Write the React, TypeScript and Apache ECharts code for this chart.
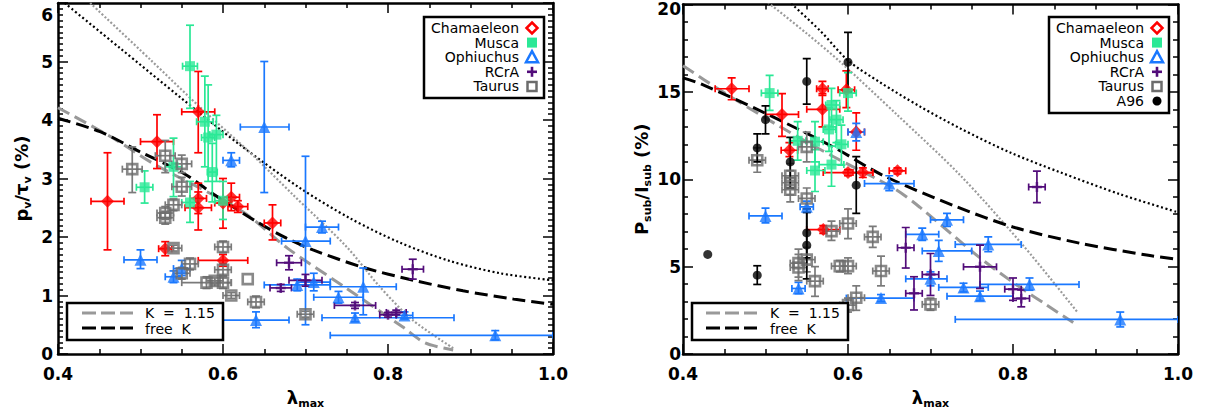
import React, { useEffect, useRef } from 'react';
import * as echarts from 'echarts';

// ---------- LEFT PANEL (p_v / tau_v) : [x, y, xLow, xHigh, yLow, yHigh]
const chamL = [
  [0.46, 2.61, 0.44, 0.48, 1.78, 3.44],
  [0.52, 3.63, 0.50, 0.54, 3.17, 4.09],
  [0.53, 1.80, 0.522, 0.538, 1.68, 1.92],
  [0.57, 4.14, 0.55, 0.59, 3.44, 4.83],
  [0.57, 2.66, 0.56, 0.58, 2.40, 2.92],
  [0.57, 2.50, 0.554, 0.586, 2.12, 2.77],
  [0.60, 2.58, 0.59, 0.61, 2.15, 3.00],
  [0.60, 1.60, 0.57, 0.63, 1.50, 1.70],
  [0.61, 2.68, 0.60, 0.62, 2.45, 2.92],
  [0.618, 2.52, 0.606, 0.63, 2.42, 2.62],
  [0.66, 2.24, 0.65, 0.67, 1.95, 2.55],
];
const muscaL = [
  [0.505, 2.85, 0.495, 0.515, 2.58, 3.13],
  [0.54, 3.20, 0.53, 0.55, 2.69, 3.69],
  [0.56, 4.92, 0.551, 0.569, 4.20, 5.62],
  [0.56, 2.59, 0.55, 0.57, 2.25, 2.95],
  [0.578, 3.97, 0.568, 0.588, 3.20, 4.75],
  [0.582, 3.70, 0.574, 0.59, 2.95, 4.60],
  [0.587, 3.11, 0.581, 0.593, 2.60, 3.60],
  [0.592, 3.75, 0.584, 0.60, 2.95, 4.08],
  [0.60, 2.62, 0.59, 0.61, 2.30, 2.95],
];
const ophL = [
  [0.50, 1.61, 0.48, 0.52, 1.46, 1.78],
  [0.54, 1.32, 0.53, 0.55, 1.22, 1.42],
  [0.55, 1.46, 0.54, 0.56, 1.34, 1.60],
  [0.61, 3.31, 0.60, 0.62, 3.20, 3.44],
  [0.65, 3.88, 0.621, 0.68, 2.76, 5.00],
  [0.64, 0.58, 0.59, 0.68, 0.45, 0.72],
  [0.70, 1.93, 0.671, 0.73, 0.50, 3.38],
  [0.72, 2.17, 0.70, 0.74, 2.07, 2.27],
  [0.69, 1.18, 0.65, 0.73, 1.08, 1.28],
  [0.71, 1.23, 0.69, 0.73, 1.08, 1.38],
  [0.74, 0.97, 0.71, 0.77, 0.87, 1.07],
  [0.77, 1.15, 0.73, 0.81, 0.67, 1.47],
  [0.76, 0.62, 0.72, 0.88, 0.55, 0.70],
  [0.82, 0.66, 0.81, 0.83, 0.60, 0.72],
  [0.93, 0.32, 0.73, 1.00, 0.24, 0.40],
];
const rcraL = [
  [0.67, 1.13, 0.657, 0.683, 1.07, 1.19],
  [0.68, 1.56, 0.665, 0.695, 1.44, 1.68],
  [0.70, 1.26, 0.68, 0.72, 1.16, 1.36],
  [0.76, 0.83, 0.735, 0.785, 0.78, 0.88],
  [0.80, 0.67, 0.79, 0.81, 0.63, 0.71],
  [0.81, 0.71, 0.798, 0.822, 0.67, 0.75],
  [0.83, 1.45, 0.817, 0.843, 1.28, 1.62],
];
const taurL = [
  [0.49, 3.16, 0.478, 0.502, 2.76, 3.54],
  [0.53, 3.39, 0.518, 0.542, 3.10, 3.65],
  [0.55, 3.25, 0.538, 0.562, 3.10, 3.40],
  [0.55, 2.86, 0.538, 0.562, 2.70, 3.02],
  [0.53, 2.41, 0.52, 0.54, 2.30, 2.52],
  [0.53, 2.33, 0.52, 0.54, 2.22, 2.44],
  [0.54, 2.55, 0.53, 0.55, 2.45, 2.65],
  [0.54, 1.81, 0.53, 0.55, 1.76, 1.86],
  [0.55, 1.38, 0.54, 0.56, 1.28, 1.48],
  [0.56, 1.54, 0.55, 0.57, 1.44, 1.64],
  [0.60, 1.83, 0.59, 0.61, 1.73, 1.93],
  [0.60, 1.44, 0.59, 0.61, 1.34, 1.54],
  [0.58, 1.22, 0.55, 0.61, 1.12, 1.32],
  [0.59, 1.25, 0.58, 0.60, 1.20, 1.30],
  [0.60, 1.22, 0.59, 0.61, 1.12, 1.32],
  [0.63, 1.28, 0.63, 0.63, 1.28, 1.28],
  [0.61, 1.00, 0.60, 0.62, 0.95, 1.05],
  [0.64, 0.89, 0.63, 0.65, 0.79, 0.99],
  [0.70, 0.68, 0.69, 0.71, 0.63, 0.73],
];

// model curves, left panel
const fixKxL = [0.40, 0.467, 0.515, 0.624, 0.678, 0.749, 0.818, 0.845, 0.879];
const fixKyL = [4.21, 3.69, 3.26, 2.43, 1.81, 1.13, 0.46, 0.19, 0.07];
const freeKxL = [0.40, 0.451, 0.499, 0.552, 0.592, 0.641, 0.677, 0.709, 0.77, 0.831, 0.891, 0.952, 1.0];
const freeKyL = [4.03, 3.80, 3.46, 3.09, 2.70, 2.26, 1.98, 1.78, 1.48, 1.26, 1.08, 0.94, 0.85];
const dotBxL = [0.408, 0.475, 0.548, 0.621, 0.693, 0.754, 0.815, 0.875, 0.936, 1.0];
const dotByL = [6.0, 5.23, 4.39, 3.57, 2.84, 2.32, 1.90, 1.59, 1.38, 1.26];
const dotGxL = [0.439, 0.512, 0.572, 0.633, 0.685, 0.75, 0.79, 0.83, 0.879];
const dotGyL = [6.0, 5.03, 4.22, 3.44, 2.72, 1.83, 1.15, 0.58, 0.1];

// ---------- RIGHT PANEL (P_sub / I_sub)
const chamR = [
  [0.459, 15.18, 0.439, 0.48, 14.55, 15.8],
  [0.52, 13.71, 0.50, 0.54, 12.45, 14.9],
  [0.529, 11.66, 0.519, 0.539, 11.3, 12.1],
  [0.569, 15.18, 0.562, 0.576, 14.8, 15.6],
  [0.569, 14.0, 0.55, 0.59, 13.0, 14.9],
  [0.598, 15.12, 0.588, 0.608, 14.1, 16.2],
  [0.61, 12.7, 0.60, 0.62, 11.66, 13.8],
  [0.57, 7.12, 0.55, 0.59, 6.9, 7.35],
  [0.60, 10.38, 0.57, 0.63, 10.2, 10.55],
  [0.618, 10.38, 0.606, 0.63, 10.1, 10.65],
  [0.66, 10.48, 0.65, 0.67, 10.3, 10.65],
];
const muscaR = [
  [0.505, 14.93, 0.495, 0.515, 13.94, 15.94],
  [0.539, 12.2, 0.529, 0.549, 11.1, 13.3],
  [0.56, 12.15, 0.55, 0.57, 11.0, 13.3],
  [0.56, 10.5, 0.55, 0.572, 9.3, 11.7],
  [0.577, 12.85, 0.57, 0.585, 11.6, 14.1],
  [0.58, 14.25, 0.573, 0.59, 13.0, 15.2],
  [0.586, 13.41, 0.578, 0.594, 12.1, 14.5],
  [0.592, 12.0, 0.585, 0.60, 10.8, 13.1],
  [0.58, 10.84, 0.565, 0.595, 9.6, 11.9],
  [0.60, 14.93, 0.59, 0.61, 13.9, 16.1],
];
const ophR = [
  [0.50, 7.9, 0.48, 0.52, 7.5, 8.35],
  [0.54, 3.75, 0.532, 0.548, 3.45, 4.1],
  [0.55, 8.42, 0.542, 0.558, 8.1, 8.75],
  [0.61, 12.7, 0.60, 0.62, 12.2, 13.2],
  [0.64, 3.2, 0.598, 0.68, 3.0, 3.4],
  [0.65, 9.75, 0.62, 0.68, 9.35, 10.2],
  [0.69, 6.85, 0.67, 0.71, 6.5, 7.2],
  [0.70, 4.3, 0.67, 0.72, 3.9, 4.7],
  [0.71, 5.9, 0.69, 0.75, 5.3, 6.5],
  [0.72, 7.68, 0.70, 0.74, 7.3, 8.05],
  [0.74, 3.81, 0.71, 0.77, 3.55, 4.05],
  [0.76, 3.31, 0.72, 0.80, 3.05, 3.6],
  [0.77, 6.27, 0.73, 0.81, 5.85, 6.7],
  [0.82, 3.98, 0.76, 0.88, 3.65, 4.35],
  [0.93, 1.98, 0.73, 1.0, 1.55, 2.4],
];
const rcraR = [
  [0.67, 6.08, 0.66, 0.68, 4.92, 7.24],
  [0.68, 3.47, 0.67, 0.69, 2.52, 4.42],
  [0.70, 4.55, 0.69, 0.71, 3.35, 5.75],
  [0.76, 4.99, 0.74, 0.78, 3.75, 6.23],
  [0.80, 3.71, 0.79, 0.81, 3.07, 4.35],
  [0.81, 3.18, 0.80, 0.82, 2.7, 3.66],
  [0.829, 9.56, 0.819, 0.839, 8.66, 10.46],
];
const taurR = [
  [0.49, 11.09, 0.48, 0.50, 10.4, 11.8],
  [0.53, 10.2, 0.52, 0.54, 9.5, 10.9],
  [0.53, 9.8, 0.52, 0.54, 9.1, 10.5],
  [0.53, 9.4, 0.52, 0.54, 8.7, 10.1],
  [0.55, 11.85, 0.54, 0.56, 11.0, 12.7],
  [0.55, 8.9, 0.54, 0.56, 8.3, 9.5],
  [0.54, 5.2, 0.53, 0.55, 4.4, 6.0],
  [0.54, 4.95, 0.53, 0.55, 4.2, 5.7],
  [0.55, 5.4, 0.54, 0.56, 4.7, 6.1],
  [0.56, 4.17, 0.55, 0.57, 3.3, 5.0],
  [0.58, 7.03, 0.57, 0.59, 6.5, 7.6],
  [0.59, 5.03, 0.58, 0.60, 4.7, 5.35],
  [0.60, 5.03, 0.59, 0.61, 4.6, 5.5],
  [0.60, 7.47, 0.59, 0.61, 6.6, 8.3],
  [0.60, 2.8, 0.59, 0.61, 2.4, 3.2],
  [0.61, 3.22, 0.60, 0.62, 2.5, 3.9],
  [0.63, 6.7, 0.62, 0.64, 6.1, 7.3],
  [0.64, 4.75, 0.63, 0.65, 3.9, 5.6],
  [0.70, 2.84, 0.69, 0.71, 2.5, 3.2],
];
const a96R = [
  [0.43, 5.70, 0.43, 0.43, 5.70, 5.70],
  [0.49, 4.51, 0.49, 0.49, 3.98, 5.05],
  [0.49, 11.79, 0.49, 0.49, 11.0, 12.6],
  [0.50, 13.41, 0.50, 0.50, 12.6, 14.2],
  [0.53, 10.99, 0.53, 0.53, 9.5, 12.4],
  [0.55, 15.6, 0.55, 0.55, 14.3, 16.9],
  [0.55, 6.93, 0.55, 0.55, 5.5, 8.3],
  [0.55, 6.23, 0.55, 0.55, 4.3, 8.1],
  [0.60, 16.7, 0.60, 0.60, 15.0, 18.4],
  [0.61, 9.66, 0.61, 0.61, 8.05, 11.3],
];

// model curves, right panel
const fixKxR = [0.40, 0.445, 0.518, 0.582, 0.655, 0.687, 0.76, 0.809, 0.841, 0.873];
const fixKyR = [16.5, 15.1, 13.0, 11.3, 9.5, 8.4, 5.5, 3.8, 2.8, 1.8];
const freeKxR = [0.40, 0.421, 0.501, 0.582, 0.642, 0.732, 0.80, 0.881, 0.962, 1.0];
const freeKyR = [15.8, 15.47, 13.75, 11.85, 10.23, 8.42, 7.27, 6.34, 5.66, 5.41];
const dotBxR = [0.531, 0.566, 0.60, 0.639, 0.687, 0.736, 0.796, 0.857, 0.93, 1.0];
const dotByR = [20.06, 18.51, 16.8, 15.54, 14.17, 12.91, 11.54, 10.4, 9.14, 8.11];
const dotGxR = [0.503, 0.55, 0.59, 0.659, 0.736, 0.812, 0.878];
const dotGyR = [20.11, 18.34, 16.74, 13.71, 10.23, 6.23, 2.4];

const FONT = 'DejaVu Sans';
const RED = '#ff0000';
const GREEN = '#2ae896';
const BLUE = '#1a78ff';
const PURPLE = '#520c7a';
const GRAY = '#6c6c6c';
const GRAY_BAR = '#7a7a7a';

const plusPath = 'path://M3,0H5V3H8V5H5V8H3V5H0V3H3Z';

function errSeries(data: number[][], color: string, ai: number, showX = true) {
  return {
    type: 'custom',
    xAxisIndex: ai,
    yAxisIndex: ai,
    clip: true,
    silent: true,
    z: 2,
    encode: { x: 0, y: 1 },
    data,
    renderItem: (_p: any, api: any) => {
      const x = api.value(0), y = api.value(1);
      const pL = api.coord([api.value(2), y]);
      const pH = api.coord([api.value(3), y]);
      const pB = api.coord([x, api.value(4)]);
      const pT = api.coord([x, api.value(5)]);
      const st = { stroke: color, lineWidth: 1.7 };
      const ch: any[] = [];
      const capH = 3.5, capV = 4;
      if (showX && pH[0] - pL[0] > 1) {
        ch.push({ type: 'line', shape: { x1: pL[0], y1: pL[1], x2: pH[0], y2: pH[1] }, style: st });
        ch.push({ type: 'line', shape: { x1: pL[0], y1: pL[1] - capH, x2: pL[0], y2: pL[1] + capH }, style: st });
        ch.push({ type: 'line', shape: { x1: pH[0], y1: pH[1] - capH, x2: pH[0], y2: pH[1] + capH }, style: st });
      }
      if (pB[1] - pT[1] > 1) {
        ch.push({ type: 'line', shape: { x1: pB[0], y1: pB[1], x2: pT[0], y2: pT[1] }, style: st });
        ch.push({ type: 'line', shape: { x1: pB[0] - capV, y1: pB[1], x2: pB[0] + capV, y2: pB[1] }, style: st });
        ch.push({ type: 'line', shape: { x1: pT[0] - capV, y1: pT[1], x2: pT[0] + capV, y2: pT[1] }, style: st });
      }
      return { type: 'group', children: ch };
    },
  };
}

function markSeries(data: number[][], ai: number, symbol: string, size: number, itemStyle: any) {
  return {
    type: 'scatter',
    xAxisIndex: ai,
    yAxisIndex: ai,
    data: data.map((r) => [r[0], r[1]]),
    symbol,
    symbolSize: size,
    itemStyle,
    z: 3,
    silent: true,
  };
}

function curve(xs: number[], ys: number[], ai: number, color: string, width: number, dash: number[]) {
  return {
    type: 'line',
    xAxisIndex: ai,
    yAxisIndex: ai,
    data: xs.map((x, i) => [x, ys[i]]),
    showSymbol: false,
    symbol: 'none',
    smooth: 0.3,
    clip: true,
    silent: true,
    z: 1,
    lineStyle: { color, width, type: dash },
  };
}

const subRich = {
  a: { fontFamily: FONT, fontSize: 18, fontWeight: 'bold', color: '#000', lineHeight: 24 },
  s: { fontFamily: FONT, fontSize: 11, fontWeight: 'bold', color: '#000', lineHeight: 12, verticalAlign: 'bottom' },
};

function xAxes(grid: number) {
  const common = {
    type: 'value', gridIndex: grid, min: 0.4, max: 1.0, interval: 0.2,
    axisLine: { show: true, onZero: false, lineStyle: { color: '#000', width: 2.5 } },
    axisTick: { show: true, inside: true, length: 10, lineStyle: { color: '#000', width: 1.5 } },
    minorTick: { show: true, splitNumber: 4, length: 5, lineStyle: { color: '#000', width: 1.5 } },
    splitLine: { show: false },
    minorSplitLine: { show: false },
  };
  return [
    {
      ...common, position: 'bottom',
      axisLabel: { show: true, color: '#000', fontFamily: FONT, fontSize: 17, fontWeight: 'bold', margin: 11, formatter: (v: number) => v.toFixed(1) },
      name: '{a|λ}{s|max}', nameLocation: 'middle', nameGap: 31,
      nameTextStyle: { rich: subRich },
    },
    { ...common, position: 'top', axisLabel: { show: false } },
  ];
}

function yAxes(grid: number, max: number, interval: number, minorSplit: number, name: string, nameGap: number, margin: number, topShift: number) {
  const common = {
    type: 'value', gridIndex: grid, min: 0, max, interval,
    axisLine: { show: true, onZero: false, lineStyle: { color: '#000', width: 2.5 } },
    axisTick: { show: true, inside: true, length: 10, lineStyle: { color: '#000', width: 1.5 } },
    minorTick: { show: true, splitNumber: minorSplit, length: 5, lineStyle: { color: '#000', width: 1.5 } },
    splitLine: { show: false },
    minorSplitLine: { show: false },
  };
  return [
    {
      ...common, position: 'left',
      axisLabel: {
        show: true, color: '#000', fontFamily: FONT, fontSize: 17, fontWeight: 'bold', margin,
        formatter: (v: number) => (v === max ? `{t|${v}}` : `${v}`),
        rich: { t: { fontFamily: FONT, fontSize: 17, fontWeight: 'bold', color: '#000', padding: [topShift, 0, 0, 0] } },
      },
      name, nameLocation: 'middle', nameGap, nameRotate: 90,
      nameTextStyle: { rich: subRich },
    },
    { ...common, position: 'right', axisLabel: { show: false } },
  ];
}

function legendBox(x: number, y: number, w: number, h: number, textRight: number, markX: number, rows: { label: string; mark: string; color: string }[]) {
  const els: any[] = [
    { type: 'rect', shape: { x, y, width: w, height: h }, style: { fill: '#fff', stroke: '#000', lineWidth: 2.5 }, z: 10 },
  ];
  rows.forEach((r, i) => {
    const cy = y + 11 + i * 14.6;
    els.push({
      type: 'text', x: textRight, y: cy, z: 11,
      style: { text: r.label, fill: '#000', font: `14px "${FONT}"`, lineHeight: 13, align: 'right', verticalAlign: 'middle', textAlign: 'right', textVerticalAlign: 'middle' },
    });
    const cx = markX;
    if (r.mark === 'diamond') {
      els.push({ type: 'polygon', z: 11, shape: { points: [[cx, cy - 5.5], [cx + 5.5, cy], [cx, cy + 5.5], [cx - 5.5, cy]] }, style: { fill: '#fff', stroke: r.color, lineWidth: 2.5 } });
    } else if (r.mark === 'musca') {
      els.push({ type: 'rect', z: 11, shape: { x: cx - 5, y: cy - 5, width: 10, height: 10 }, style: { fill: r.color } });
    } else if (r.mark === 'triangle') {
      els.push({ type: 'polygon', z: 11, shape: { points: [[cx, cy - 6], [cx + 6, cy + 5], [cx - 6, cy + 5]] }, style: { fill: '#fff', stroke: r.color, lineWidth: 2.5 } });
    } else if (r.mark === 'plus') {
      els.push({ type: 'rect', z: 11, shape: { x: cx - 5, y: cy - 1.3, width: 10, height: 2.6 }, style: { fill: r.color } });
      els.push({ type: 'rect', z: 11, shape: { x: cx - 1.3, y: cy - 5, width: 2.6, height: 10 }, style: { fill: r.color } });
    } else if (r.mark === 'square') {
      els.push({ type: 'rect', z: 11, shape: { x: cx - 4.5, y: cy - 4.5, width: 9, height: 9 }, style: { fill: '#fff', stroke: r.color, lineWidth: 2.5 } });
    } else if (r.mark === 'circle') {
      els.push({ type: 'circle', z: 11, shape: { cx, cy, r: 4.5 }, style: { fill: r.color } });
    }
  });
  return els;
}

function modelBox(x: number, y: number, lineX1: number, lineX2: number, textX: number) {
  const txt = (t: string, yy: number) => ({
    type: 'text', x: textX, y: yy, z: 11,
    style: { text: t, fill: '#000', font: `14px "${FONT}"`, lineHeight: 12, align: 'left', verticalAlign: 'middle', textAlign: 'left', textVerticalAlign: 'middle' },
  });
  return [
    { type: 'rect', shape: { x, y, width: 156, height: 37 }, style: { fill: '#fff', stroke: '#000', lineWidth: 2.5 }, z: 10 },
    { type: 'line', z: 11, shape: { x1: lineX1, y1: y + 10, x2: lineX2, y2: y + 10 }, style: { stroke: '#999', lineWidth: 3, lineDash: [14, 5] } },
    { type: 'line', z: 11, shape: { x1: lineX1, y1: y + 25, x2: lineX2, y2: y + 25 }, style: { stroke: '#000', lineWidth: 3, lineDash: [14, 5] } },
    txt('K\u00a0\u00a0=\u00a0\u00a01.15', y + 10),
    txt('free\u00a0\u00a0K', y + 25.5),
  ];
}

export default function App() {
  const ref = useRef<HTMLDivElement>(null);
  useEffect(() => {
    if (!ref.current) return;
    const chart = echarts.init(ref.current, undefined, { renderer: 'svg' });

    const series: any[] = [];
    const addPanel = (ai: number, cham: number[][], musca: number[][], oph: number[][], rcra: number[][], taur: number[][], a96: number[][] | null,
      c: { fx: number[]; fy: number[]; kx: number[]; ky: number[]; bx: number[]; by: number[]; gx: number[]; gy: number[] }) => {
      series.push(curve(c.bx, c.by, ai, '#000', 2.2, [2, 2.6]));
      series.push(curve(c.gx, c.gy, ai, '#9a9a9a', 2.2, [2, 2]));
      series.push(curve(c.fx, c.fy, ai, '#999999', 3, [13, 6]));
      series.push(curve(c.kx, c.ky, ai, '#000', 3, [13, 6]));
      series.push(errSeries(cham, RED, ai));
      series.push(markSeries(cham, ai, 'diamond', 13, { color: RED }));
      series.push(errSeries(musca, GREEN, ai));
      series.push(markSeries(musca, ai, 'rect', 10, { color: GREEN }));
      series.push(errSeries(oph, BLUE, ai));
      series.push(markSeries(oph, ai, 'triangle', 12, { color: BLUE }));
      series.push(errSeries(rcra, PURPLE, ai));
      series.push(markSeries(rcra, ai, plusPath, 10, { color: PURPLE }));
      series.push(errSeries(taur, GRAY_BAR, ai));
      series.push(markSeries(taur, ai, 'rect', 10, { color: 'rgba(255,255,255,0)', borderColor: GRAY, borderWidth: 2.6 }));
      if (a96) {
        series.push(errSeries(a96, '#000', ai, false));
        series.push(markSeries(a96, ai, 'circle', 9, { color: '#000' }));
      }
    };
    addPanel(0, chamL, muscaL, ophL, rcraL, taurL, null, { fx: fixKxL, fy: fixKyL, kx: freeKxL, ky: freeKyL, bx: dotBxL, by: dotByL, gx: dotGxL, gy: dotGyL });
    addPanel(2, chamR, muscaR, ophR, rcraR, taurR, a96R, { fx: fixKxR, fy: fixKyR, kx: freeKxR, ky: freeKyR, bx: dotBxR, by: dotByR, gx: dotGxR, gy: dotGyR });

    const rowsL = [
      { label: 'Chamaeleon', mark: 'diamond', color: RED },
      { label: 'Musca', mark: 'musca', color: GREEN },
      { label: 'Ophiuchus', mark: 'triangle', color: BLUE },
      { label: 'RCrA', mark: 'plus', color: PURPLE },
      { label: 'Taurus', mark: 'square', color: GRAY },
    ];
    const rowsR = [...rowsL, { label: 'A96', mark: 'circle', color: '#000' }];

    chart.setOption({
      animation: false,
      backgroundColor: '#fff',
      textStyle: { fontFamily: FONT },
      grid: [
        { left: 58, top: 3, width: 495, height: 351 },
        { left: 683, top: 3, width: 495, height: 351 },
      ],
      xAxis: [...xAxes(0), ...xAxes(1)],
      yAxis: [
        ...yAxes(0, 6, 1, 10, '{a|p}{s|v}{a|/τ}{s|v}{a| (%)}', 25, 5, 24),
        ...yAxes(1, 20, 5, 5, '{a|P}{s|sub}{a|/I}{s|sub}{a| (%)}', 20, 2, 8),
      ],
      series,
      graphic: [
        ...legendBox(424, 17, 120, 81, 519, 532, rowsL),
        ...legendBox(1049, 17, 120, 96, 1144, 1157, rowsR),
        ...modelBox(67, 303, 82, 133, 145),
        ...modelBox(692, 303, 706, 757, 770),
      ],
    });
    return () => chart.dispose();
  }, []);
  return <div ref={ref} style={{ position: 'fixed', left: 0, top: 0, width: 1208, height: 416, background: '#fff' }} />;
}
